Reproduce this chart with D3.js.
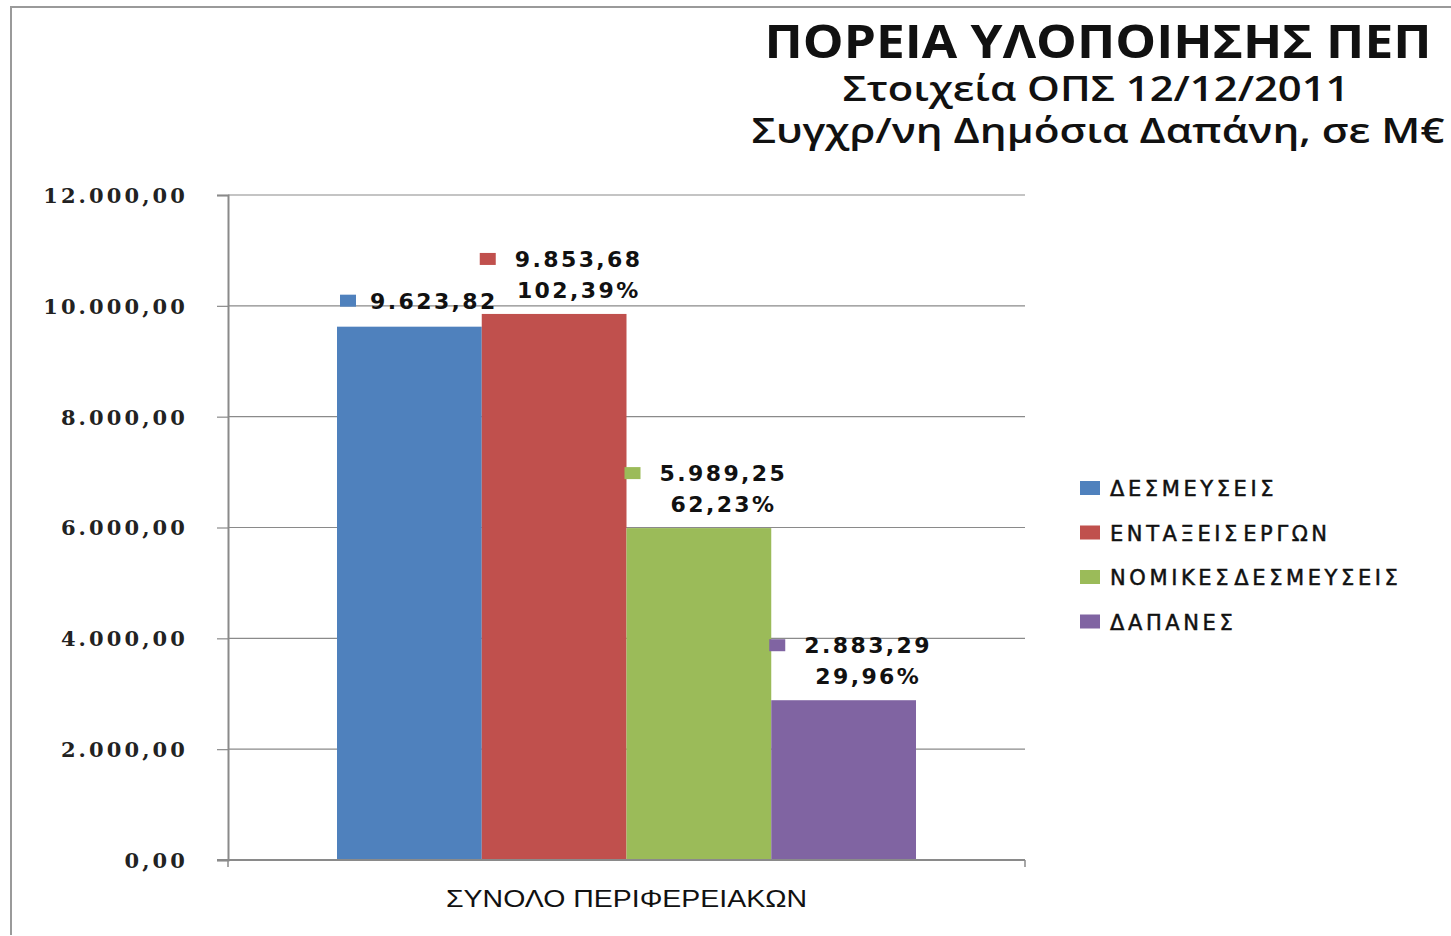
<!DOCTYPE html>
<html>
<head>
<meta charset="utf-8">
<script src="https://cdn.jsdelivr.net/npm/d3@7"></script>
<style>
  body { margin: 0; background: #fff; }
  svg { display: block; }
</style>
</head>
<body>
<div id="chart"></div>
<script>
// data
var category = "ΣΥΝΟΛΟ ΠΕΡΙΦΕΡΕΙΑΚΩΝ";
var series = ["ΔΕΣΜΕΥΣΕΙΣ", "ΕΝΤΑΞΕΙΣ ΕΡΓΩΝ", "ΝΟΜΙΚΕΣ ΔΕΣΜΕΥΣΕΙΣ", "ΔΑΠΑΝΕΣ"];
var values = [9623.82, 9853.68, 5989.25, 2883.29];
var percents = ["", "102,39%", "62,23%", "29,96%"];
var colors = ["#4f81bd", "#c0504d", "#9bbb59", "#8064a2"];
var yTicks = [0, 2000, 4000, 6000, 8000, 10000, 12000];
var titleLines = ["ΠΟΡΕΙΑ ΥΛΟΠΟΙΗΣΗΣ ΠΕΠ", "Στοιχεία ΟΠΣ 12/12/2011", "Συγχρ/νη Δημόσια Δαπάνη, σε Μ€"];

function drawChart() {
    var W = 1451, H = 936;
    var pLeft = 228, pRight = 1025, pTop = 195, pBottom = 860;

    // greek number format: 9.623,82
    var fmt = d3.formatLocale({decimal: ",", thousands: ".", grouping: [3], currency: ["", "€"]}).format(",.2f");

    var svg = d3.select("#chart").append("svg")
        .attr("width", W)
        .attr("height", H);

    // frame (only top and left edges show)
    svg.append("path")
        .attr("d", "M11,935 L11,7 L1451,7")
        .attr("fill", "none")
        .attr("stroke", "#9a9a9a")
        .attr("stroke-width", 2);

    var y = d3.scaleLinear().domain([0, 12000]).range([pBottom, pTop]);
    var x0 = d3.scaleBand().domain([category]).range([pLeft, pRight]);
    var x1 = d3.scaleBand().domain(series).range([109, 109 + 579]);

    // gridlines
    svg.append("g")
        .selectAll("line")
        .data(yTicks.filter(function(d) { return d > 0; }))
        .enter()
        .append("line")
        .attr("x1", pLeft).attr("x2", pRight)
        .attr("y1", function(d) { return y(d); })
        .attr("y2", function(d) { return y(d); })
        .attr("stroke", "#8a8a8a")
        .attr("stroke-width", 1.2);

    // y axis
    var yAxis = svg.append("g")
        .attr("transform", "translate(" + pLeft + ",0)")
        .call(d3.axisLeft(y).tickValues(yTicks).tickSize(11).tickPadding(29).tickFormat(fmt));
    yAxis.select(".domain").attr("stroke", "#8a8a8a").attr("stroke-width", 2);
    yAxis.selectAll(".tick line").attr("stroke", "#8a8a8a").attr("stroke-width", 1.2);
    yAxis.selectAll(".tick text")
        .attr("font-family", "DejaVu Serif")
        .attr("font-weight", "bold")
        .attr("font-size", 21)
        .attr("letter-spacing", 3.1)
        .attr("fill", "#222")
        .attr("dy", "0.35em");

    // bars
    var bars = svg.append("g").attr("transform", "translate(" + x0(category) + ",0)");
    bars.selectAll("rect")
        .data(values)
        .enter()
        .append("rect")
        .attr("x", function(d, i) { return x1(series[i]); })
        .attr("width", x1.bandwidth())
        .attr("y", function(d) { return y(d); })
        .attr("height", function(d) { return y(0) - y(d); })
        .attr("fill", function(d, i) { return colors[i]; });

    // x axis
    var xAxis = svg.append("g")
        .attr("transform", "translate(0," + pBottom + ")");
    xAxis.append("line")
        .attr("x1", pLeft - 11).attr("x2", pRight)
        .attr("stroke", "#8a8a8a").attr("stroke-width", 2);
    xAxis.selectAll(".xt")
        .data([pLeft, pRight])
        .enter()
        .append("line")
        .attr("x1", function(d) { return d; }).attr("x2", function(d) { return d; })
        .attr("y1", 0).attr("y2", 7)
        .attr("stroke", "#8a8a8a").attr("stroke-width", 1.5);
    xAxis.append("text")
        .attr("x", x0(category) + x0.bandwidth() / 2)
        .attr("y", 47)
        .attr("text-anchor", "middle")
        .attr("font-family", "Liberation Sans Narrow, Liberation Sans, sans-serif")
        .attr("font-size", 23)
        .attr("textLength", 361)
        .attr("lengthAdjust", "spacingAndGlyphs")
        .attr("fill", "#111")
        .text(category);

    // data labels with legend key
    var lab = bars.selectAll(".lab")
        .data(values)
        .enter()
        .append("g")
        .attr("transform", function(d, i) {
            var off = i === 0 ? 26 : 55;
            return "translate(" + x1(series[i]) + "," + (y(d) - off) + ")";
        });
    lab.append("rect")
        .attr("x", function(d, i) { return i === 0 ? 3 : -2; })
        .attr("y", -6)
        .attr("width", 16).attr("height", 12)
        .attr("fill", function(d, i) { return colors[i]; });
    lab.append("text")
        .attr("x", 33)
        .attr("y", 0)
        .attr("dy", "0.36em")
        .attr("font-family", "DejaVu Sans")
        .attr("font-weight", "bold")
        .attr("font-size", 22)
        .attr("letter-spacing", 2.4)
        .attr("fill", "#111")
        .text(function(d) { return fmt(d); });
    lab.append("text")
        .attr("x", 97)
        .attr("y", 31)
        .attr("dy", "0.36em")
        .attr("text-anchor", "middle")
        .attr("font-family", "DejaVu Sans")
        .attr("font-weight", "bold")
        .attr("font-size", 22)
        .attr("letter-spacing", 2.4)
        .attr("fill", "#111")
        .text(function(d, i) { return percents[i]; });

    // legend
    var leg = svg.append("g").attr("transform", "translate(1080,488)");
    var item = leg.selectAll("g")
        .data(series)
        .enter()
        .append("g")
        .attr("transform", function(d, i) { return "translate(0," + (i * 44.5) + ")"; });
    item.append("rect")
        .attr("x", 0).attr("y", -7)
        .attr("width", 20).attr("height", 14)
        .attr("fill", function(d, i) { return colors[i]; });
    item.append("text")
        .attr("x", 30).attr("y", 8)
        .attr("font-family", "DejaVu Sans")
        .attr("font-size", 21)
        .attr("letter-spacing", 3.6)
        .attr("word-spacing", -8)
        .attr("fill", "#111")
        .attr("stroke", "#111")
        .attr("stroke-width", 0.5)
        .text(function(d) { return d; });

    // title
    var tt = svg.append("g").attr("text-anchor", "middle").attr("fill", "#111");
    tt.append("text")
        .attr("x", 1098).attr("y", 58)
        .attr("font-family", "Open Sans")
        .attr("font-weight", "bold")
        .attr("font-size", 46)
        .attr("textLength", 667)
        .attr("lengthAdjust", "spacingAndGlyphs")
        .text(titleLines[0]);
    tt.append("text")
        .attr("x", 1096).attr("y", 101)
        .attr("font-family", "Open Sans")
        .attr("font-weight", 600)
        .attr("font-size", 34)
        .attr("textLength", 507)
        .attr("lengthAdjust", "spacingAndGlyphs")
        .text(titleLines[1]);
    tt.append("text")
        .attr("x", 1098).attr("y", 143)
        .attr("font-family", "Open Sans")
        .attr("font-weight", 600)
        .attr("font-size", 34)
        .attr("textLength", 693)
        .attr("lengthAdjust", "spacingAndGlyphs")
        .text(titleLines[2]);
}

drawChart();
</script>
</body>
</html>
